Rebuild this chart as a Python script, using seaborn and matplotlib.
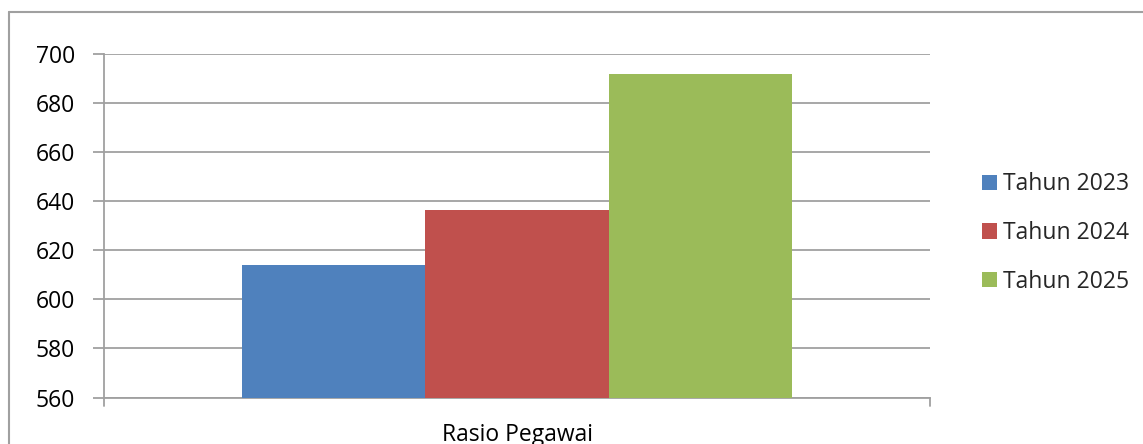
import matplotlib
matplotlib.use("Agg")
import matplotlib.pyplot as plt
import seaborn as sns
import pandas as pd
from matplotlib.lines import Line2D

categories = ["Rasio Pegawai"]
series_names = ["Tahun 2023", "Tahun 2024", "Tahun 2025"]
series_values = [614, 636.5, 692]
colors = ["#4F81BD", "#C0504D", "#9BBB59"]
y_ticks = [560, 580, 600, 620, 640, 660, 680, 700]

sns.set_theme(style="white")
plt.rcParams['font.family'] = ['Open Sans', 'DejaVu Sans']

df = pd.DataFrame({
    "cat": categories * len(series_names),
    "series": series_names,
    "value": series_values,
})

W, H = 1143, 444
FS = 16.5
fig = plt.figure(figsize=(W / 100, H / 100), dpi=100)
ax = fig.add_axes([104 / W, 1 - 397.5 / H, (930 - 104) / W, (397.5 - 54) / H])

sns.barplot(data=df, x="cat", y="value", hue="series", palette=colors,
            width=0.666, gap=0, ax=ax, saturation=1, legend=True, zorder=3,
            linewidth=0, edgecolor="none")

ax.set_ylim(560, 700)
ax.set_xlim(-0.5, 0.5)
ax.set_yticks(y_ticks)
ax.set_yticklabels([str(v) for v in y_ticks], fontsize=FS, color="black")
ax.grid(axis="y", color="#A0A0A0", linewidth=1.3, zorder=0)
ax.grid(axis="x", visible=False)
ax.set_axisbelow(True)
ax.set_xlabel("")
ax.set_ylabel("")
ax.set_xticks([0])
ax.set_xticklabels(categories, fontsize=FS, color="black")
ax.tick_params(axis="x", length=0, pad=18)
ax.tick_params(axis="y", length=8, width=1.3, color="#A0A0A0", pad=13, left=True, direction="out")

for s in ["top", "right"]:
    ax.spines[s].set_visible(False)
for s in ["left", "bottom"]:
    ax.spines[s].set_color("#A0A0A0")
    ax.spines[s].set_linewidth(1.3)

# category boundary ticks on x axis
ax.plot([-0.5, -0.5], [560, 556.7], color="#A0A0A0", lw=1.3, clip_on=False)
ax.plot([0.5, 0.5], [560, 556.7], color="#A0A0A0", lw=1.3, clip_on=False)

handles, labels = ax.get_legend_handles_labels()
ax.legend(handles, labels, loc="center left", bbox_to_anchor=(961 / W, 0.5 - (233 - 222) / H),
          bbox_transform=fig.transFigure, frameon=False, fontsize=FS,
          handlelength=0.65, handleheight=0.65, handletextpad=0.3, labelspacing=1.07)

# outer chart frame (top and left visible)
fig.add_artist(Line2D([9 / W, 9 / W], [0, 1 - 12 / H], color="#A0A0A0", lw=1.5, transform=fig.transFigure))
fig.add_artist(Line2D([9 / W, 1], [1 - 12 / H, 1 - 12 / H], color="#A0A0A0", lw=1.5, transform=fig.transFigure))

fig.savefig("out.png", dpi=100)
